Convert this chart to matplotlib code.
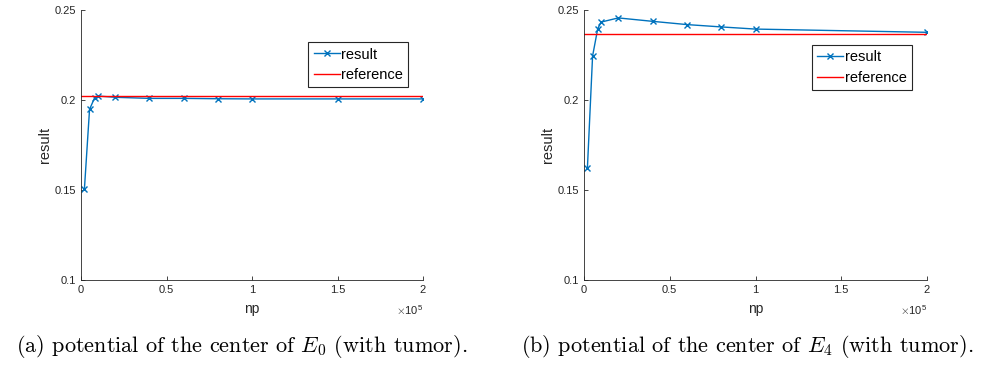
import numpy as np
import matplotlib
matplotlib.use('Agg')
import matplotlib.pyplot as plt
from matplotlib.ticker import FuncFormatter

plt.rcParams['mathtext.fontset'] = 'cm'

# sample counts (np)
np_a = [2000, 5000, 8000, 10000, 20000, 40000, 60000, 80000, 100000, 150000, 200000]
res_a = [0.1506, 0.1948, 0.2013, 0.2022, 0.2015, 0.2009, 0.2009, 0.2007, 0.2006, 0.2006, 0.2006]
ref_a = 0.2020

np_b = [2000, 5000, 8000, 10000, 20000, 40000, 60000, 80000, 100000, 200000]
res_b = [0.1624, 0.2244, 0.2396, 0.2433, 0.2456, 0.2437, 0.2419, 0.2406, 0.2394, 0.2376]
ref_b = 0.2369

x_ticks = [0, 50000, 100000, 150000, 200000]
y_ticks = [0.1, 0.15, 0.2, 0.25]
captions = [r'(a) potential of the center of $E_0$ (with tumor).',
            r'(b) potential of the center of $E_4$ (with tumor).']

W, H = 982, 367
fig = plt.figure(figsize=(W / 100, H / 100), dpi=100)

axes_px = [(81, 423), (584, 927)]
top_px, bot_px = 10, 280
legend_loc = [(0.665, 0.88), (0.665, 0.87)]

gray = '#262626'
data = [(np_a, res_a, ref_a), (np_b, res_b, ref_b)]

for i, (xs, ys, ref) in enumerate(data):
    x0, x1 = axes_px[i]
    ax = fig.add_axes([x0 / W, (H - bot_px) / H, (x1 - x0) / W, (bot_px - top_px) / H])
    ax.plot(xs, ys, '-x', color='#0072BD', lw=1.0, ms=4.5, mew=1.0, label='result')
    ax.plot([0, 200000], [ref, ref], color='red', lw=1.0, label='reference')
    ax.set_xlim(0, 200000)
    ax.set_ylim(0.1, 0.25)
    ax.set_xticks(x_ticks)
    ax.set_yticks(y_ticks)
    ax.xaxis.set_major_formatter(FuncFormatter(lambda v, p: '%g' % (v / 1e5)))
    ax.yaxis.set_major_formatter(FuncFormatter(lambda v, p: '%g' % v))
    for s in ['top', 'right']:
        ax.spines[s].set_visible(False)
    for s in ['left', 'bottom']:
        ax.spines[s].set_color(gray)
        ax.spines[s].set_linewidth(0.6)
    ax.tick_params(direction='in', length=3, width=0.6, colors=gray,
                   labelsize=8, labelcolor=gray)
    for lbl in ax.get_xticklabels() + ax.get_yticklabels():
        lbl.set_fontfamily('Liberation Sans')
    ax.set_xlabel('np', fontsize=10, color=gray, family='Liberation Sans', labelpad=5)
    ax.set_ylabel('result', fontsize=10.5, color=gray, family='Liberation Sans', labelpad=2)
    ax.text(1.0, -0.085, r'$\times\mathregular{10}^{\mathregular{5}}$', transform=ax.transAxes,
            ha='right', va='top', fontsize=8, color=gray, family='Liberation Sans')
    leg = ax.legend(loc='upper left', bbox_to_anchor=legend_loc[i],
                    frameon=True, fancybox=False, edgecolor=gray, framealpha=1,
                    borderpad=0.35, handlelength=1.8, handletextpad=0.1,
                    labelspacing=0.45, borderaxespad=0,
                    prop={'family': 'Liberation Sans', 'size': 10.5})
    leg.get_frame().set_linewidth(0.8)
    ax.patch.set_visible(False)

fig.text(242 / W, 1 - 347 / H, captions[0], ha='center', va='center',
         fontsize=16, family='cmr10')
fig.text(747 / W, 1 - 347 / H, captions[1], ha='center', va='center',
         fontsize=16, family='cmr10')

fig.savefig('out.png', dpi=100)
